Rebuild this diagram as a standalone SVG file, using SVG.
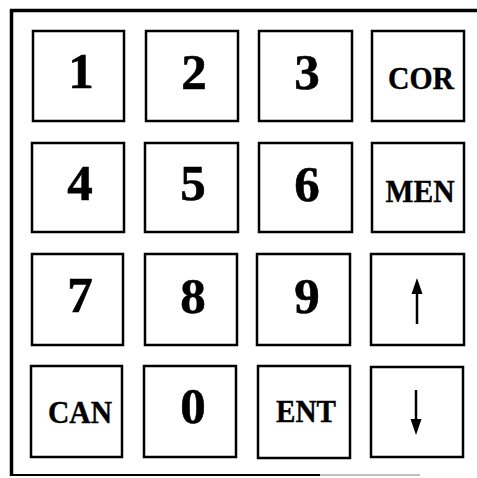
<svg xmlns="http://www.w3.org/2000/svg" width="477" height="478" viewBox="0 0 477 478">
<style>
.key{fill:#fff;stroke:#000;stroke-width:2.5}
.d{font-family:"Liberation Serif","Times New Roman",serif;font-weight:bold;font-size:51px;text-anchor:middle;fill:#000;stroke:#000;stroke-width:0.6}
.l{font-family:"Liberation Serif","Times New Roman",serif;font-weight:bold;font-size:32px;text-anchor:middle;fill:#000;stroke:#000;stroke-width:0.4}
.frame{stroke:#000;fill:none}
.arr{stroke:#000;stroke-width:2.5}
</style>
<rect width="477" height="478" fill="#fff"/>
<g id="frame">
<line class="frame" x1="10" y1="10.5" x2="477" y2="10.5" stroke-width="3.5"/>
<line class="frame" x1="11.5" y1="9" x2="11.5" y2="476" stroke-width="3.5"/>
<line class="frame" x1="10" y1="475" x2="320" y2="475" stroke-width="2"/>
<line x1="320" y1="475" x2="420" y2="475" stroke="#aaa" stroke-width="1.5"/>
</g>
<g id="k1"><rect class="key" x="33" y="31" width="91" height="90"/><text class="d" x="81" y="88">1</text></g>
<g id="k2"><rect class="key" x="146" y="31" width="92" height="90"/><text class="d" x="194" y="89">2</text></g>
<g id="k3"><rect class="key" x="259" y="31" width="93" height="90"/><text class="d" x="307" y="89">3</text></g>
<g id="kcor"><rect class="key" x="372" y="31" width="92" height="90"/><text class="l" x="421" y="89" textLength="66" lengthAdjust="spacingAndGlyphs">COR</text></g>
<g id="k4"><rect class="key" x="32" y="143" width="92" height="89"/><text class="d" x="80" y="200">4</text></g>
<g id="k5"><rect class="key" x="145" y="143" width="93" height="89"/><text class="d" x="193" y="200">5</text></g>
<g id="k6"><rect class="key" x="259" y="143" width="93" height="89"/><text class="d" x="307" y="201">6</text></g>
<g id="kmen"><rect class="key" x="372" y="143" width="92" height="89"/><text class="l" x="420" y="202" textLength="69" lengthAdjust="spacingAndGlyphs">MEN</text></g>
<g id="k7"><rect class="key" x="32" y="254" width="91" height="91"/><text class="d" x="80" y="312">7</text></g>
<g id="k8"><rect class="key" x="145" y="254" width="92" height="91"/><text class="d" x="193" y="313">8</text></g>
<g id="k9"><rect class="key" x="257" y="254" width="93" height="91"/><text class="d" x="307" y="313">9</text></g>
<g id="kup"><rect class="key" x="371" y="254" width="93" height="91"/><line class="arr" x1="417" y1="290" x2="417" y2="324"/><polygon points="417,278 411.5,294 422.5,294" fill="#000"/></g>
<g id="kcan"><rect class="key" x="31" y="366" width="91" height="91"/><text class="l" x="80" y="423" textLength="64" lengthAdjust="spacingAndGlyphs">CAN</text></g>
<g id="k0"><rect class="key" x="144" y="366" width="92" height="91"/><text class="d" x="193" y="423">0</text></g>
<g id="kent"><rect class="key" x="258" y="366" width="92" height="92"/><text class="l" x="306" y="422" textLength="60" lengthAdjust="spacingAndGlyphs">ENT</text></g>
<g id="kdown"><rect class="key" x="371" y="367" width="92" height="90"/><line class="arr" x1="416" y1="390" x2="416" y2="424"/><polygon points="416,435 410.5,419 421.5,419" fill="#000"/></g>
</svg>
